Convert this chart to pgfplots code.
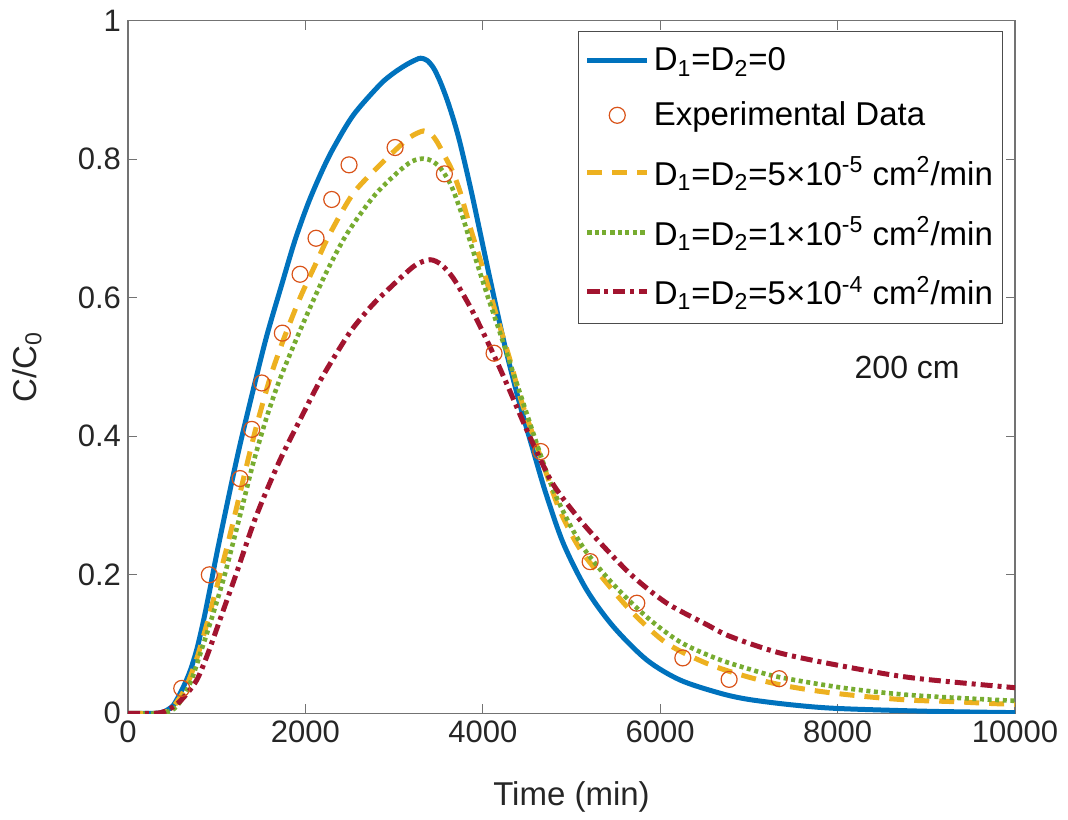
\documentclass[border=0pt]{standalone}
\usepackage{pgfplots}
\pgfplotsset{compat=1.18}
\usepackage{fontspec}
\setmainfont{Liberation Sans}
\definecolor{mblue}{rgb}{0,0.447,0.741}
\definecolor{morange}{rgb}{0.85,0.325,0.098}
\definecolor{myellow}{rgb}{0.929,0.694,0.125}
\definecolor{mgreen}{rgb}{0.466,0.674,0.188}
\definecolor{mred}{rgb}{0.635,0.078,0.184}
\pgfplotsset{
  mylegline/.style={legend image code/.code={\draw[mark repeat=2,mark phase=2,##1] plot coordinates {(0pt,0pt) (15pt,0pt) (30pt,0pt)};}},
  mylegmark/.style={legend image code/.code={\draw[##1] plot coordinates {(15pt,0pt)};}},
}
\begin{document}
\begin{tikzpicture}
\path (-64pt,-51.85pt) rectangle (470pt,356.65pt);
\begin{axis}[
  at={(0pt,0pt)}, anchor=south west,
  scale only axis, width=443.5pt, height=346.25pt,
  xmin=0, xmax=10000, ymin=0, ymax=1,
  xtick={0,2000,4000,6000,8000,10000},
  ytick={0,0.2,0.4,0.6,0.8,1},
  scaled x ticks=false,
  /pgf/number format/1000 sep={},
  /pgf/number format/assume math mode=true,
  tick label style={font=\fontsize{15.5}{18}\selectfont, text=black!85},
  label style={font=\fontsize{16.5}{20}\selectfont, text=black!85},
  xlabel={Time (min)},
  ylabel={C/C\textsubscript{0}},
  xlabel style={at={(axis description cs:0.5,-0.121)}, anchor=center},
  ylabel style={at={(axis description cs:-0.114,0.5)}, anchor=center},
  axis line style={black!55, line width=0.6pt},
  tick style={black!55, line width=0.6pt},
  major tick length=4.5pt,
  mylegline,
  legend style={at={(0.987,0.985)}, anchor=north east,
    font=\fontsize{16.5}{19}\selectfont, draw=black!70, line width=0.6pt,
    row sep=10pt, inner xsep=3pt, inner ysep=6pt, cells={anchor=west}},
]
\addplot[mblue, line width=2.5pt, smooth, tension=0.5] coordinates {
(0,0) (300,0) (400,0.002) (500,0.01) (560,0.022) (624,0.038) (700,0.061)
(775,0.092) (850,0.133) (925,0.180) (1000,0.230) (1150,0.322) (1263,0.388)
(1413,0.468) (1564,0.545) (1733,0.619) (1880,0.682) (2030,0.736) (2180,0.781)
(2315,0.816) (2541,0.864) (2842,0.908) (3000,0.925) (3143,0.937) (3250,0.944)
(3300,0.946) (3370,0.943) (3444,0.932) (3520,0.912) (3600,0.885) (3680,0.853)
(3750,0.820) (3880,0.748) (4080,0.628) (4250,0.530) (4420,0.445) (4560,0.383)
(4710,0.318) (4909,0.245) (5172,0.178) (5473,0.125) (5849,0.077) (6225,0.048)
(6676,0.029) (7000,0.02) (7500,0.012) (8000,0.007) (9000,0.003) (10000,0.001)
};
\addlegendentry{D\textsubscript{1}=D\textsubscript{2}=0}
\addplot[morange, only marks, mark=o, mark size=4pt, line width=0.6pt, mylegmark] coordinates {
(606,0.036) (917,0.200) (1263,0.339) (1395,0.410) (1508,0.477) (1740,0.549)
(1940,0.634) (2120,0.686) (2297,0.742) (2492,0.792) (3011,0.817) (3567,0.779)
(4127,0.520) (4654,0.378) (5210,0.219) (5736,0.159) (6255,0.080) (6777,0.049)
(7341,0.050)
};
\addlegendentry{Experimental Data}
\addplot[myellow, line width=2.5pt, dash pattern=on 7.5pt off 5pt, smooth, tension=0.5] coordinates {
(0,0) (350,0) (474,0.005) (560,0.018) (662,0.040) (775,0.079) (887,0.128)
(1000,0.182) (1131,0.248) (1226,0.298) (1338,0.358) (1451,0.416) (1601,0.484)
(1751,0.539) (1940,0.600) (2127,0.652) (2278,0.693) (2541,0.751) (2842,0.792)
(3011,0.813) (3180,0.832) (3331,0.841) (3420,0.836) (3490,0.824) (3556,0.808)
(3650,0.785) (3744,0.753) (3857,0.702) (4007,0.640) (4158,0.573) (4307,0.510)
(4420,0.457) (4570,0.400) (4720,0.345) (4871,0.292) (5097,0.237) (5398,0.188)
(5699,0.144) (6075,0.101) (6526,0.072) (6977,0.053) (7400,0.040) (7841,0.031)
(8330,0.024) (8819,0.019) (9270,0.017) (9759,0.014) (10000,0.013)
};
\addlegendentry{D\textsubscript{1}=D\textsubscript{2}=5×10\textsuperscript{-5} cm\textsuperscript{2}/min}
\addplot[mgreen, line width=2.3pt, dash pattern=on 2pt off 1.8pt, smooth, tension=0.5] coordinates {
(0,0) (380,0) (549,0.010) (699,0.043) (812,0.085) (943,0.137) (1075,0.193)
(1188,0.248) (1301,0.305) (1413,0.362) (1550,0.422) (1690,0.475) (1864,0.530)
(2060,0.588) (2241,0.638) (2466,0.692) (2767,0.746) (3030,0.780) (3200,0.797)
(3331,0.801) (3420,0.798) (3518,0.788) (3640,0.763) (3760,0.722) (3880,0.672)
(4045,0.606) (4195,0.549) (4345,0.491) (4495,0.433) (4646,0.375) (4796,0.322)
(4984,0.272) (5172,0.232) (5473,0.186) (5849,0.139) (6225,0.103) (6638,0.079)
(7000,0.064) (7352,0.052) (8104,0.036) (8856,0.026) (10000,0.018)
};
\addlegendentry{D\textsubscript{1}=D\textsubscript{2}=1×10\textsuperscript{-5} cm\textsuperscript{2}/min}
\addplot[mred, line width=2.5pt, dash pattern=on 6pt off 2.5pt on 2pt off 2.5pt, smooth, tension=0.5] coordinates {
(0,0) (300,0) (420,0.003) (549,0.013) (662,0.028) (775,0.048) (870,0.076)
(962,0.108) (1100,0.158) (1222,0.202) (1440,0.283) (1700,0.362) (1940,0.424)
(2165,0.480) (2400,0.530) (2541,0.557) (2750,0.589) (2917,0.610) (3100,0.632)
(3250,0.648) (3405,0.655) (3530,0.648) (3669,0.628) (3857,0.587) (4007,0.549)
(4158,0.508) (4307,0.465) (4458,0.420) (4608,0.378) (4796,0.330) (5097,0.279)
(5398,0.236) (5699,0.197) (6075,0.159) (6526,0.128) (6789,0.111) (7352,0.087)
(8104,0.067) (8856,0.051) (10000,0.037)
};
\addlegendentry{D\textsubscript{1}=D\textsubscript{2}=5×10\textsuperscript{-4} cm\textsuperscript{2}/min}
\node[font=\fontsize{16}{19}\selectfont, text=black!90] at (axis cs:8784,0.499) {200 cm};
\end{axis}
\end{tikzpicture}
\end{document}
